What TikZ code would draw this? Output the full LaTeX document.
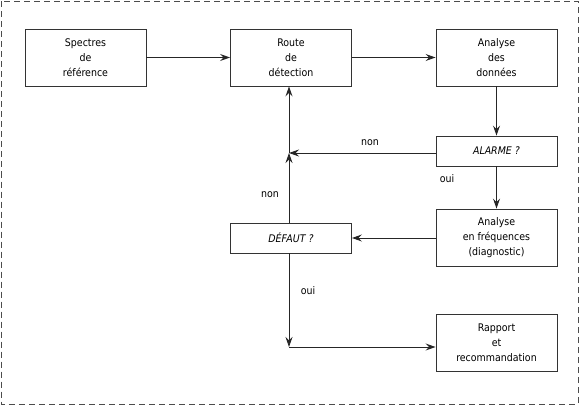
\documentclass[tikz,border=0pt]{standalone}
\usepackage{fontspec}
\setmainfont{DejaVu Sans Condensed}
\usetikzlibrary{arrows.meta}
\begin{document}
\begin{tikzpicture}[x=1pt,y=-1pt,
  blk/.style={draw=black!80,line width=0.9pt,minimum width=121pt,minimum height=57pt,inner sep=0pt,align=center,font=\fontsize{10.5}{15}\selectfont},
  dec/.style={blk,minimum height=30pt,font=\fontsize{10.5}{15}\selectfont\itshape},
  conn/.style={draw=black!85,line width=0.9pt,-{Stealth[length=10pt,width=7pt,inset=3.5pt]}},
  lbl/.style={font=\fontsize{10.5}{12}\selectfont,inner sep=0pt}]
\useasboundingbox (0,0) rectangle (580,406);
\draw[black!70,line width=0.9pt,dash pattern=on 6pt off 4pt] (1.5,1.5) rectangle (578,404);
\node[blk] (spec) at (85.5,57.5) {Spectres\\de\\référence};
\node[blk] (route) at (291,57.5) {Route\\de\\détection};
\node[blk] (anal) at (496.5,57.5) {Analyse\\des\\données};
\node[dec] (alarm) at (496.5,151) {ALARME ?};
\node[blk] (freq) at (496.5,237.5) {Analyse\\en fréquences\\(diagnostic)};
\node[dec] (def) at (291,238) {DÉFAUT ?};
\node[blk] (rap) at (496.5,342.5) {Rapport\\et\\recommandation};
\coordinate (j) at (289,153);
\coordinate (k) at (289,347);
\draw[conn] (spec) -- (route);
\draw[conn] (route) -- (anal);
\draw[conn] (anal) -- (alarm);
\draw[conn] (alarm) -- (freq);
\draw[conn] (alarm.west |- j) -- (j);
\draw[conn] (freq.west |- def) -- (def.east);
\draw[conn] (def.north -| j) -- (j);
\draw[conn] (j) -- (j |- route.south);
\draw[conn] (def.south -| k) -- (k);
\draw[conn] (k) -- (k -| rap.west);
\node[lbl] at (370,143) {non};
\node[lbl] at (447,179) {oui};
\node[lbl] at (270,195) {non};
\node[lbl] at (308,291) {oui};
\end{tikzpicture}
\end{document}
